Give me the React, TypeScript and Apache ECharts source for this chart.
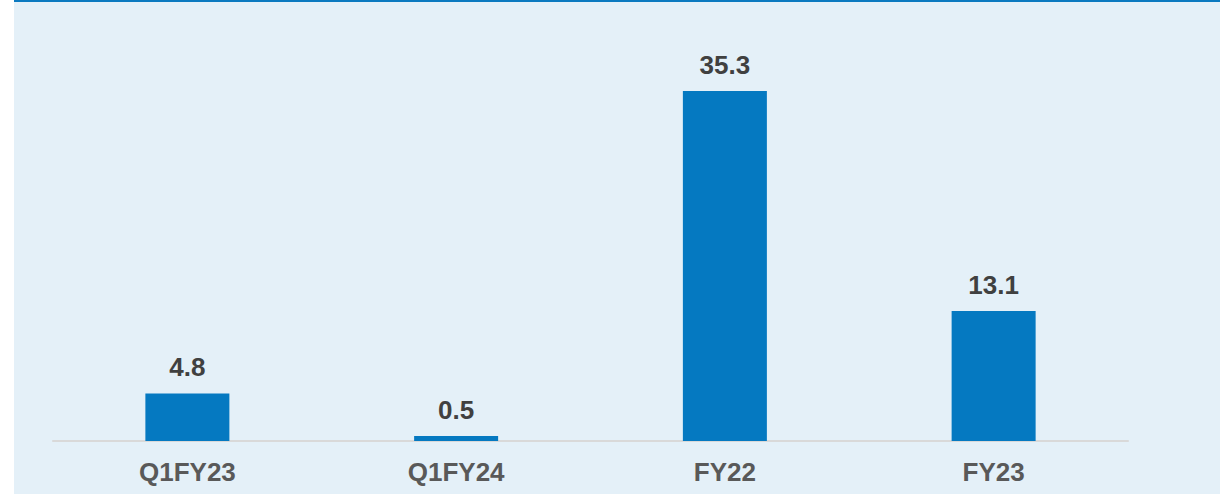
import React, { useEffect, useRef } from "react";
import * as echarts from "echarts";

const categories = ["Q1FY23", "Q1FY24", "FY22", "FY23"];
const values = [4.8, 0.5, 35.3, 13.1];

export default function App() {
  const ref = useRef<HTMLDivElement>(null);
  useEffect(() => {
    if (!ref.current) return;
    const chart = echarts.init(ref.current, null, { renderer: "svg" });
    chart.setOption({
      animation: false,
      backgroundColor: "transparent",
      grid: { left: 53, right: 102, top: 44.4, bottom: 53, containLabel: false },
      xAxis: {
        type: "category",
        data: categories,
        axisLine: { lineStyle: { color: "#D9D9D9", width: 2 } },
        axisTick: { show: false },
        axisLabel: {
          color: "#595959",
          fontSize: 26,
          fontWeight: "bold",
          fontFamily: "Liberation Sans, Arial, sans-serif",
          margin: 18,
        },
      },
      yAxis: {
        type: "value",
        min: 0,
        max: 40,
        show: false,
        splitLine: { show: false },
      },
      series: [
        {
          type: "bar",
          data: values,
          barWidth: 84,
          itemStyle: { color: "#0579C1" },
          label: {
            show: true,
            position: "top",
            distance: 13,
            color: "#404040",
            fontSize: 26,
            fontWeight: "bold",
            fontFamily: "Liberation Sans, Arial, sans-serif",
          },
        },
      ],
    });
    return () => chart.dispose();
  }, []);
  return (
    <div style={{ position: "fixed", left: 0, top: 0, width: 1230, height: 494, background: "#ffffff" }}>
      <div style={{ position: "absolute", left: 14, top: 0, width: 1206, height: 494, background: "#E4F0F8" }} />
      <div style={{ position: "absolute", left: 14, top: 0, width: 1206, height: 2, background: "#0A79C0" }} />
      <div ref={ref} style={{ position: "absolute", left: 0, top: 0, width: 1230, height: 494 }} />
    </div>
  );
}
